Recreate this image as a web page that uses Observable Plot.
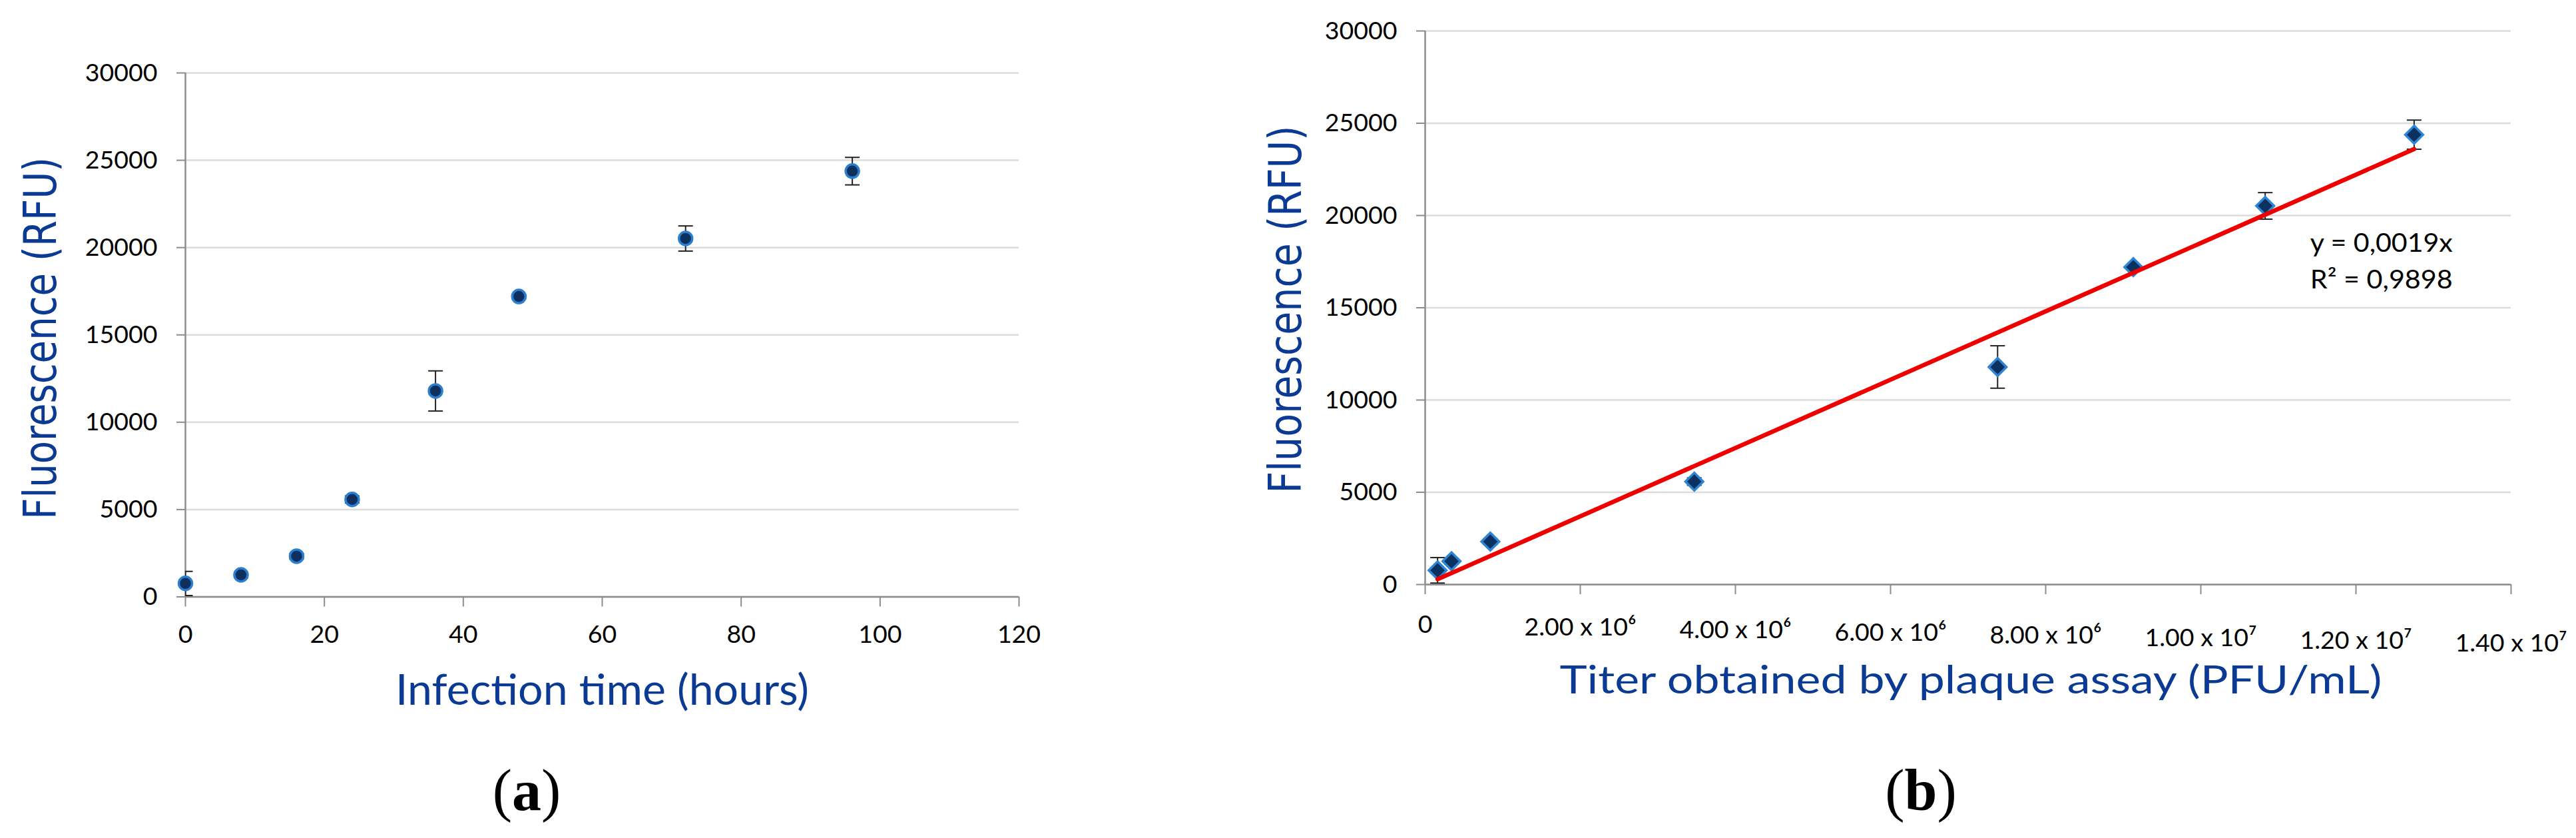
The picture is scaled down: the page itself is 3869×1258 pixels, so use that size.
<!DOCTYPE html>
<html><head><meta charset="utf-8">
<script src="https://cdn.jsdelivr.net/npm/d3@7"></script>
<script src="https://cdn.jsdelivr.net/npm/@observablehq/plot@0.6"></script>
<style>
body{margin:0;background:#fff;}
#page{position:relative;width:3869px;height:1258px;background:#fff;overflow:hidden;}
.panel{position:absolute;top:0;}
.cap{position:absolute;top:1143px;width:300px;font-family:"Liberation Serif","Times New Roman",serif;font-size:88px;line-height:88px;text-align:center;color:#000;}
</style></head><body><div id="page"></div>
<script>
// ---- data ----
const hours = [0, 8, 16, 24, 36, 48, 72, 96];
const titer = [1.6e5, 3.4e5, 8.4e5, 3.47e6, 7.38e6, 9.13e6, 1.083e7, 1.275e7];
const fluorescence = [770, 1260, 2330, 5580, 11790, 17200, 20520, 24380];
const fluorescenceErr = [690, 150, 150, 200, 1150, 120, 720, 790];
const yTicks = [0, 5000, 10000, 15000, 20000, 25000, 30000];
const yTickLabels = ["0", "5000", "10000", "15000", "20000", "25000", "30000"];
const xTicksA = [0, 20, 40, 60, 80, 100, 120];
const xTickLabelsA = ["0", "20", "40", "60", "80", "100", "120"];
const xTicksB = [0, 2e6, 4e6, 6e6, 8e6, 1e7, 1.2e7, 1.4e7];
const xTickLabelsB = ["0", "2.00 x 10\u2076", "4.00 x 10\u2076", "6.00 x 10\u2076", "8.00 x 10\u2076", "1.00 x 10\u2077", "1.20 x 10\u2077", "1.40 x 10\u2077"];
const fitX = [1.6e5, 1.275e7];
const fitY = [290, 23600];
const eqLines = ["y = 0,0019x", "R\u00B2 = 0,9898"];
const eqX = [1.141e7, 1.141e7];
const eqY = [18050, 16060];
const yTitle = "Fluorescence (RFU)";
const xTitleA = "Infection time (hours)";
const xTitleB = "Titer obtained by plaque assay (PFU/mL)";

// ---- styles ----
const TICK_FONT = "Lato, 'Open Sans', sans-serif";
const BLUE = "#0b3a95";
const AXIS_GRAY = "#8c8c8c";
const GRID_GRAY = "#dcdcdc";

const capSymbol = {draw(ctx, size) { const w = Math.sqrt(size / Math.PI); ctx.moveTo(-w, 0); ctx.lineTo(w, 0); }};

const rowsA = hours.map((h, i) => ({x: h, y: fluorescence[i], lo: fluorescence[i] - fluorescenceErr[i], hi: fluorescence[i] + fluorescenceErr[i]}));
const rowsB = titer.map((t, i) => ({x: t, y: fluorescence[i], lo: fluorescence[i] - fluorescenceErr[i], hi: fluorescence[i] + fluorescenceErr[i]}));
const fitRows = fitX.map((x, i) => ({x, y: fitY[i]}));

function fitText(svg, content, len) {
  for (const t of svg.querySelectorAll("text")) {
    if (t.textContent === content) { t.setAttribute("textLength", len); t.setAttribute("lengthAdjust", "spacingAndGlyphs"); }
  }
}

const yFmt = d => yTickLabels[yTicks.indexOf(d)];

function common(rows, xTicks, tickFmt, xPad, capClip) {
  return [
    Plot.gridY(yTicks, {stroke: GRID_GRAY, strokeOpacity: 1, strokeWidth: 2.5}),
    Plot.axisY(yTicks, {tickSize: 13, tickPadding: 29, stroke: AXIS_GRAY, strokeWidth: 2, color: "#000", fontSize: 37.5, fontFamily: TICK_FONT, label: null, tickFormat: yFmt}),
    Plot.axisX(xTicks, {tickSize: 15, tickPadding: xPad, stroke: AXIS_GRAY, strokeWidth: 2, color: "#000", fontSize: 37.5, fontFamily: TICK_FONT, label: null, tickFormat: tickFmt}),
    Plot.ruleY([0], {stroke: AXIS_GRAY, strokeWidth: 2.5}),
    Plot.ruleX([0], {stroke: AXIS_GRAY, strokeWidth: 2.5}),
    Plot.ruleX(rows, {x: "x", y1: "lo", y2: "hi", stroke: "#222", strokeWidth: 2, clip: capClip}),
    Plot.dot(rows, {x: "x", y: "lo", symbol: capSymbol, r: 11, fill: "none", stroke: "#222", strokeWidth: 2, clip: capClip}),
    Plot.dot(rows, {x: "x", y: "hi", symbol: capSymbol, r: 11, fill: "none", stroke: "#222", strokeWidth: 2, clip: capClip})
  ];
}

// ---- panel (a) ----
const plotA = Plot.plot({
  width: 1620, height: 1100,
  marginLeft: 278, marginRight: 90, marginTop: 109, marginBottom: 204.5,
  style: {fontFamily: TICK_FONT, fontSize: "37.5px", background: "transparent"},
  x: {domain: [0, 120]},
  y: {domain: [0, 30000]},
  marks: [
    ...common(rowsA, xTicksA, d => xTickLabelsA[xTicksA.indexOf(d)], 27.5, true),
    Plot.dot(rowsA, {x: "x", y: "y", r: 10, fill: "#0c2f5e", stroke: "#2a7fd0", strokeWidth: 3.5}),
    Plot.text([yTitle], {text: d => d, frameAnchor: "left", rotate: -90, dx: -195, dy: 5, lineAnchor: "bottom", textAnchor: "middle", fill: BLUE, fontSize: 68, fontFamily: "'DejaVu Sans', Verdana, sans-serif"}),
    Plot.text([xTitleA], {text: d => d, frameAnchor: "bottom", dy: 162, lineAnchor: "bottom", textAnchor: "middle", fill: BLUE, fontSize: 64, fontFamily: TICK_FONT})
  ]
});
plotA.classList.add("panel");
plotA.style.left = "0px";
fitText(plotA, yTitle, 544);
fitText(plotA, xTitleA, 621);

// ---- panel (b) ----
const plotB = Plot.plot({
  width: 1989, height: 1100,
  marginLeft: 260, marginRight: 98, marginTop: 46, marginBottom: 223,
  style: {fontFamily: TICK_FONT, fontSize: "37.5px", background: "transparent"},
  x: {domain: [0, 1.4e7]},
  y: {domain: [0, 30000]},
  marks: [
    ...common(rowsB, xTicksB, d => xTickLabelsB[xTicksB.indexOf(d)], 31, false),
    Plot.dot(rowsB, {x: "x", y: "y", symbol: "diamond2", r: 12, fill: "#0b3160", stroke: "#2f85d2", strokeWidth: 3.5}),
    Plot.line(fitRows, {x: "x", y: "y", stroke: "#ee0000", strokeWidth: 6.5}),
    Plot.text(eqLines, {text: d => d, x: (d, i) => eqX[i], y: (d, i) => eqY[i], textAnchor: "start", lineAnchor: "bottom", fill: "#000", fontSize: 38, fontFamily: TICK_FONT}),
    Plot.text([yTitle], {text: d => d, frameAnchor: "left", rotate: -90, dx: -187, dy: 2.5, lineAnchor: "bottom", textAnchor: "middle", fill: BLUE, fontSize: 68, fontFamily: "'DejaVu Sans', Verdana, sans-serif"}),
    Plot.text([xTitleB], {text: d => d, frameAnchor: "bottom", dy: 163, dx: 4, lineAnchor: "bottom", textAnchor: "middle", fill: BLUE, fontSize: 59, fontFamily: TICK_FONT})
  ]
});
plotB.classList.add("panel");
plotB.style.left = "1880px";
fitText(plotB, yTitle, 552);
fitText(plotB, xTitleB, 1235);
for (const l of eqLines) fitText(plotB, l, 214);
// the reference's x tick labels drift slightly downward from left to right
plotB.querySelectorAll('g[aria-label="x-axis tick label"] text').forEach((t, i) => {
  t.setAttribute("transform", (t.getAttribute("transform") || "") + ` translate(0,${i * 4})`);
});

const page = document.getElementById("page");
page.appendChild(plotA);
page.appendChild(plotB);

const capA = document.createElement("div");
capA.className = "cap"; capA.style.left = "641px";
capA.innerHTML = "(<b>a</b>)";
const capB = document.createElement("div");
capB.className = "cap"; capB.style.left = "2735px";
capB.innerHTML = "(<b>b</b>)";
page.appendChild(capA);
page.appendChild(capB);
</script>
</body></html>
